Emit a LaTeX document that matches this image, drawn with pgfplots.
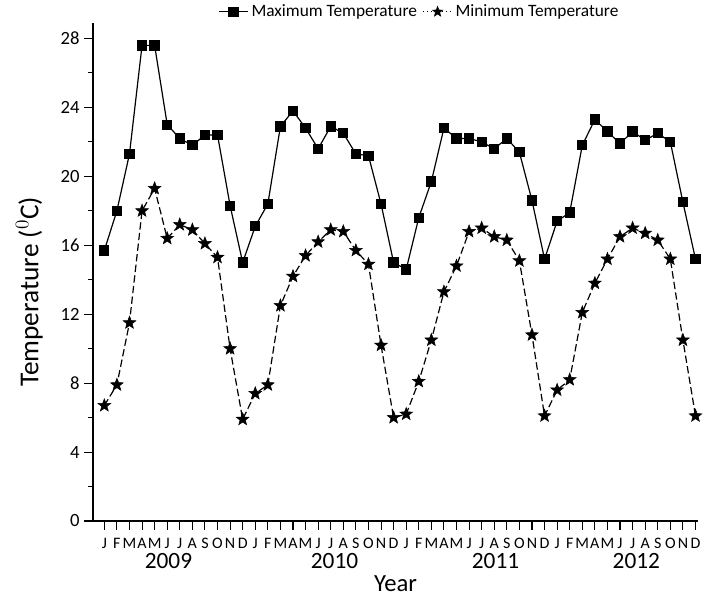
\documentclass[border=0pt]{standalone}
\usepackage{fontspec}
\setmainfont{Carlito}
\usepackage{pgfplots}
\usepackage{pgfplotstable}
\pgfplotsset{compat=1.18}

% filled five-pointed star
\pgfdeclareplotmark{fstar}{%
  \pgfpathmoveto{\pgfpointpolar{90}{\pgfplotmarksize}}%
  \pgfpathlineto{\pgfpointpolar{126}{0.42\pgfplotmarksize}}%
  \pgfpathlineto{\pgfpointpolar{162}{\pgfplotmarksize}}%
  \pgfpathlineto{\pgfpointpolar{198}{0.42\pgfplotmarksize}}%
  \pgfpathlineto{\pgfpointpolar{234}{\pgfplotmarksize}}%
  \pgfpathlineto{\pgfpointpolar{270}{0.42\pgfplotmarksize}}%
  \pgfpathlineto{\pgfpointpolar{306}{\pgfplotmarksize}}%
  \pgfpathlineto{\pgfpointpolar{342}{0.42\pgfplotmarksize}}%
  \pgfpathlineto{\pgfpointpolar{18}{\pgfplotmarksize}}%
  \pgfpathlineto{\pgfpointpolar{54}{0.42\pgfplotmarksize}}%
  \pgfpathclose
  \pgfusepathqfillstroke
}

\pgfplotstableread{
m  tmax  tmin
1  15.7  6.7
2  18.0  7.9
3  21.3  11.5
4  27.6  18.0
5  27.6  19.3
6  23.0  16.4
7  22.2  17.2
8  21.8  16.9
9  22.4  16.1
10 22.4  15.3
11 18.3  10.0
12 15.0  5.9
13 17.1  7.4
14 18.4  7.9
15 22.9  12.5
16 23.8  14.2
17 22.8  15.4
18 21.6  16.2
19 22.9  16.9
20 22.5  16.8
21 21.3  15.7
22 21.2  14.9
23 18.4  10.2
24 15.0  6.0
25 14.6  6.2
26 17.6  8.1
27 19.7  10.5
28 22.8  13.3
29 22.2  14.8
30 22.2  16.8
31 22.0  17.0
32 21.6  16.5
33 22.2  16.3
34 21.4  15.1
35 18.6  10.8
36 15.2  6.1
37 17.4  7.6
38 17.9  8.2
39 21.8  12.1
40 23.3  13.8
41 22.6  15.2
42 21.9  16.5
43 22.6  17.0
44 22.1  16.7
45 22.5  16.3
46 22.0  15.2
47 18.5  10.5
48 15.2  6.1
}\temps

\begin{document}
\begin{tikzpicture}
\begin{axis}[
  scale only axis,
  width=453.75pt, height=373.5pt,
  xmin=0.1, xmax=48.2,
  ymin=0, ymax=28.9,
  axis x line*=bottom, axis y line*=left,
  axis line style={-, line width=0.9pt},
  tick align=outside,
  major tick length=6.5pt, minor tick length=3.5pt,
  tick style={line width=0.8pt, black},
  ytick={0,4,...,28},
  minor y tick num=1,
  xtick={1,...,48},
  xticklabels={J,F,M,A,M,J,J,A,S,O,N,D,J,F,M,A,M,J,J,A,S,O,N,D,J,F,M,A,M,J,J,A,S,O,N,D,J,F,M,A,M,J,J,A,S,O,N,D},
  /pgf/number format/assume math mode=true,
  yticklabel style={font=\fontsize{14pt}{16pt}\selectfont},
  xticklabel style={font=\fontsize{12pt}{14pt}\selectfont, inner sep=1pt, yshift=-5pt},
  xlabel={Year},
  xlabel style={font=\fontsize{18.5pt}{21pt}\selectfont, at={(axis description cs:0.5,0)}, anchor=center, yshift=-47pt},
  ylabel={Temperature ($^{0}$C)},
  every axis y label/.style={at={(axis description cs:-0.105,0.46)}, rotate=90, anchor=center, font=\fontsize{20.5pt}{23pt}\selectfont},
  legend columns=2,
  legend style={draw=none, fill=none, at={(0.54,1.0)}, anchor=south, font=\fontsize{13pt}{15pt}\selectfont, inner sep=1pt, /tikz/every even column/.append style={column sep=2pt}},
  legend image code/.code={\draw[mark repeat=2,mark phase=2,#1] plot coordinates {(0pt,0pt) (11pt,0pt) (22pt,0pt)};},
  clip=false,
]
\addplot[black, line width=0.9pt, mark=square*, mark size=3.4pt, mark options={solid}] table[x=m, y=tmax] {\temps};
\addlegendentry{Maximum Temperature}
\addplot[black, line width=0.9pt, dash pattern=on 5.5pt off 2.5pt, mark=fstar, mark size=5pt, mark options={solid, line width=0.4pt}, forget plot] table[x=m, y=tmin] {\temps};
\addlegendimage{black, line width=0.9pt, dotted, mark=fstar, mark size=4pt, mark options={solid, line width=0.4pt}}
\addlegendentry{Minimum Temperature}
\node[font=\fontsize{17.5pt}{20pt}\selectfont] at (axis cs:6.1,0) [yshift=-29.75pt] {2009};
\node[font=\fontsize{17.5pt}{20pt}\selectfont] at (axis cs:19.3,0) [yshift=-29.75pt] {2010};
\node[font=\fontsize{17.5pt}{20pt}\selectfont] at (axis cs:32.1,0) [yshift=-29.75pt] {2011};
\node[font=\fontsize{17.5pt}{20pt}\selectfont] at (axis cs:43.3,0) [yshift=-29.75pt] {2012};
\end{axis}
\pgfresetboundingbox
\path[use as bounding box] (-69.75pt,-57.75pt) rectangle (462pt,390.75pt);
\end{tikzpicture}
\end{document}
